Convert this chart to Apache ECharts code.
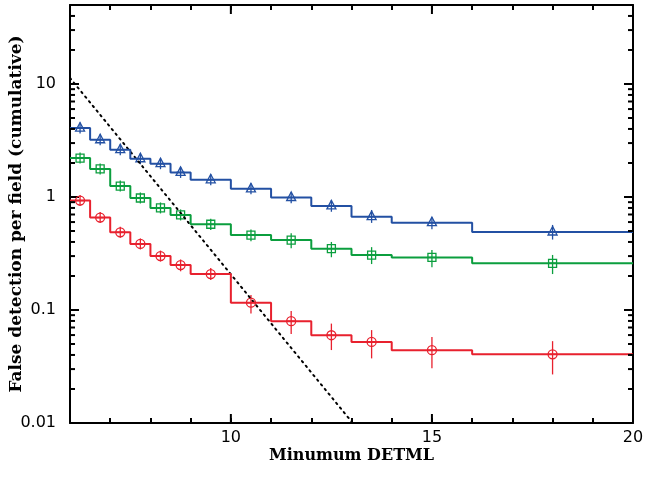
<!DOCTYPE html>
<html>
<head>
<meta charset="utf-8">
<script src="https://cdn.jsdelivr.net/npm/echarts@6/dist/echarts.min.js"></script>
<style>
  html, body { margin: 0; padding: 0; background: #fff; }
  #chart { width: 646px; height: 477px; }
</style>
</head>
<body>
<div id="chart"></div>
<script>
///Data
var binEdges = [6, 6.5, 7, 7.5, 8, 8.5, 9, 10, 11, 12, 13, 14, 16, 20];
var binCenters = [6.25, 6.75, 7.25, 7.75, 8.25, 8.75, 9.5, 10.5, 11.5, 12.5, 13.5, 15, 18];

var blueVals = [4.07, 3.21, 2.62, 2.18, 1.97, 1.65, 1.42, 1.18, 0.99, 0.834, 0.67, 0.593, 0.49];
var blueLo   = [3.8, 2.98, 2.43, 2.02, 1.81, 1.51, 1.29, 1.06, 0.88, 0.74, 0.59, 0.519, 0.42];
var blueHi   = [4.35, 3.45, 2.82, 2.36, 2.13, 1.80, 1.56, 1.31, 1.09, 0.94, 0.767, 0.662, 0.566];

var greenVals = [2.21, 1.77, 1.25, 0.98, 0.80, 0.694, 0.574, 0.46, 0.416, 0.349, 0.306, 0.292, 0.259];
var greenLo   = [2.08, 1.65, 1.16, 0.90, 0.73, 0.63, 0.51, 0.405, 0.351, 0.293, 0.255, 0.239, 0.208];
var greenHi   = [2.35, 1.89, 1.35, 1.06, 0.87, 0.76, 0.64, 0.515, 0.477, 0.40, 0.36, 0.34, 0.307];

var redVals = [0.93, 0.657, 0.487, 0.384, 0.30, 0.25, 0.208, 0.116, 0.0797, 0.0598, 0.0522, 0.0441, 0.0405];
var redLo   = [0.86, 0.60, 0.445, 0.35, 0.27, 0.22, 0.184, 0.0933, 0.0612, 0.0442, 0.0373, 0.0305, 0.0269];
var redHi   = [1.0, 0.71, 0.53, 0.42, 0.33, 0.28, 0.235, 0.1355, 0.098, 0.0758, 0.0664, 0.0578, 0.053];

// dotted reference line, two end points
var dottedLine = [[6, 11.3], [13.03, 0.01]];

// ticks
var yTickLabels = ['0.01', '0.1', '1', '10'];
var yMinorTicks = [0.02, 0.03, 0.04, 0.05, 0.06, 0.07, 0.08, 0.09,
                   0.2, 0.3, 0.4, 0.5, 0.6, 0.7, 0.8, 0.9,
                   2, 3, 4, 5, 6, 7, 8, 9, 20, 30, 40];
var xMajorTicks = [10, 15];

var blue = '#2350a3', green = '#0b9e3e', red = '#e8212e';

//Helpers
function stepData(vals) {
    var out = [];
    for (var i = 0; i < vals.length; i++) out.push([binEdges[i], vals[i]]);
    out.push([binEdges[binEdges.length - 1], vals[vals.length - 1]]);
    return out;
}

function pointData(vals, lo, hi) {
    return binCenters.map(function (x, i) { return [x, vals[i], lo[i], hi[i]]; });
}

function markerRender(shape, color) {
    return function (params, api) {
        var p = api.coord([api.value(0), api.value(1)]);
        var pl = api.coord([api.value(0), api.value(2)]);
        var ph = api.coord([api.value(0), api.value(3)]);
        var r = 4.5;
        var top = Math.min(ph[1], p[1] - r - 1);
        var bot = Math.max(pl[1], p[1] + r + 1);
        var st = { stroke: color, lineWidth: 1.3, fill: null };
        var kids = [
            { type: 'line', shape: { x1: p[0], y1: top, x2: p[0], y2: bot }, style: st },
            { type: 'line', shape: { x1: p[0] - r, y1: p[1], x2: p[0] + r, y2: p[1] }, style: st }
        ];
        if (shape === 'circle') {
            kids.push({ type: 'circle', shape: { cx: p[0], cy: p[1], r: r }, style: st });
        } else if (shape === 'rect') {
            kids.push({ type: 'rect', shape: { x: p[0] - 4, y: p[1] - 4, width: 8, height: 8 }, style: st });
        } else {
            kids.push({ type: 'polygon', shape: { points: [[p[0], p[1] - 5.5], [p[0] - 4.5, p[1] + 3], [p[0] + 4.5, p[1] + 3]] }, style: st });
        }
        return { type: 'group', children: kids };
    };
}

// minor log ticks on left + right frame
function yMinorRender(params, api) {
    var v = api.value(1);
    var a = api.coord([6, v]), b = api.coord([20, v]);
    return { type: 'group', children: [
        { type: 'line', shape: { x1: a[0], y1: a[1], x2: a[0] + 5, y2: a[1] }, style: { stroke: '#000', fill: null, lineWidth: 2 } },
        { type: 'line', shape: { x1: b[0] - 5, y1: b[1], x2: b[0], y2: b[1] }, style: { stroke: '#000', fill: null, lineWidth: 2 } }
    ] };
}

// longer ticks at 10, 15 on bottom + top frame
function xMajorRender(params, api) {
    var x = api.value(0);
    var a = api.coord([x, 0.01]), b = api.coord([x, 50]);
    return { type: 'group', children: [
        { type: 'line', shape: { x1: a[0], y1: a[1], x2: a[0], y2: a[1] - 9 }, style: { stroke: '#000', fill: null, lineWidth: 2 } },
        { type: 'line', shape: { x1: b[0], y1: b[1], x2: b[0], y2: b[1] + 9 }, style: { stroke: '#000', fill: null, lineWidth: 2 } }
    ] };
}

//Axes
var axisLine = { show: true, onZero: false, lineStyle: { color: '#000', width: 2 } };

function xAx(pos, labels) {
    return {
        type: 'value', position: pos, min: 6, max: 20, interval: 1,
        axisLine: axisLine,
        axisTick: { show: true, inside: true, length: 5, lineStyle: { color: '#000', width: 2 } },
        axisLabel: {
            show: labels, margin: 7, color: '#000', fontFamily: 'DejaVu Sans', fontSize: 16,
            formatter: function (v) { return v % 5 === 0 && v > 6 ? String(v) : ''; }
        },
        splitLine: { show: false },
        name: labels ? 'Minumum DETML' : '',
        nameLocation: 'middle', nameGap: 25, nameMoveOverlap: false,
        nameTextStyle: { color: '#000', fontFamily: 'DejaVu Serif', fontSize: 16, fontWeight: 'bold' }
    };
}

function yAx(pos, labels) {
    return {
        type: 'log', position: pos, min: 0.01, max: 50, logBase: 10,
        axisLine: axisLine,
        axisTick: { show: true, inside: true, length: 9, lineStyle: { color: '#000', width: 2 } },
        axisLabel: {
            show: labels, margin: 14, color: '#000', fontFamily: 'DejaVu Sans', fontSize: 16,
            formatter: function (v) {
                var l = Math.log10(v);
                return Math.abs(l - Math.round(l)) < 1e-6 ? yTickLabels[Math.round(l) + 2] : '';
            }
        },
        splitLine: { show: false },
        name: labels ? 'False detection per field (cumulative)' : '',
        nameLocation: 'middle', nameGap: 45, nameMoveOverlap: false,
        nameTextStyle: { color: '#000', fontFamily: 'DejaVu Serif', fontSize: 17, fontWeight: 'bold' }
    };
}

var options = {
    animation: false,
    backgroundColor: '#fff',
    grid: { left: 70, right: 13, top: 5, bottom: 54, containLabel: false, outerBoundsMode: 'none' },
    xAxis: [xAx('bottom', true), xAx('top', false)],
    yAxis: [yAx('left', true), yAx('right', false)],
    series: [
        { type: 'line', data: dottedLine, showSymbol: false, silent: true,
          lineStyle: { color: '#000', width: 2, type: [1.5, 4.5], cap: 'round' } },
        { type: 'line', step: 'end', data: stepData(blueVals), showSymbol: false, lineStyle: { color: blue, width: 2 } },
        { type: 'line', step: 'end', data: stepData(greenVals), showSymbol: false, lineStyle: { color: green, width: 2 } },
        { type: 'line', step: 'end', data: stepData(redVals), showSymbol: false, lineStyle: { color: red, width: 2 } },
        { type: 'custom', data: pointData(blueVals, blueLo, blueHi), renderItem: markerRender('triangle', blue) },
        { type: 'custom', data: pointData(greenVals, greenLo, greenHi), renderItem: markerRender('rect', green) },
        { type: 'custom', data: pointData(redVals, redLo, redHi), renderItem: markerRender('circle', red) },
        { type: 'custom', z: 10, data: yMinorTicks.map(function (v) { return [6, v]; }), renderItem: yMinorRender },
        { type: 'custom', z: 10, data: xMajorTicks.map(function (x) { return [x, 1]; }), renderItem: xMajorRender }
    ]
};

var chart = echarts.init(document.getElementById('chart'));
chart.setOption(options);
</script>
</body>
</html>
